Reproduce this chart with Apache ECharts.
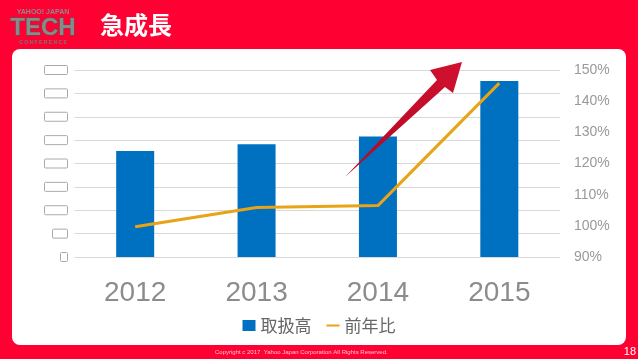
<!DOCTYPE html>
<html><head><meta charset="utf-8">
<script src="https://cdn.jsdelivr.net/npm/echarts@6/dist/echarts.min.js"></script>
<style>html,body{margin:0;padding:0;background:#ff0033;}#c{width:638px;height:359px;}</style>
</head><body><div id="c"></div>
<script>
const categories = ['2012', '2013', '2014', '2015'];
const volume = [4.53, 4.82, 5.15, 7.53];        // 取扱高 (left axis, labels hidden)
const yoy = [99.7, 105.9, 106.5, 145.8];         // 前年比 (%)
const leftTicks = ['', '', '', '', '', '', '', '', ''];
const seriesNames = ['取扱高', '前年比'];

const chart = echarts.init(document.getElementById('c'));
const boxW = [7, 15, 23, 23, 23, 23, 23, 23, 23];
chart.setOption({
  backgroundColor: 'transparent',
  animation: false,
  textStyle: { fontFamily: 'Liberation Sans, Noto Sans CJK JP' },
  grid: { left: 74.5, right: 78, top: 70, bottom: 102, containLabel: false },
  legend: {
    bottom: 20, left: 'center',
    itemWidth: 13, itemHeight: 11, itemGap: 14,
    textStyle: { fontSize: 17, color: '#666', fontFamily: 'Noto Sans CJK JP' },
    data: [{ name: seriesNames[0], icon: 'rect' }, { name: seriesNames[1], itemStyle: { opacity: 0 } }]
  },
  xAxis: {
    type: 'category', data: categories,
    axisLine: { show: false }, axisTick: { show: false },
    axisLabel: { fontSize: 28, color: '#8c8c8c', margin: 22, fontFamily: 'Liberation Sans' }
  },
  yAxis: [{
    type: 'value', min: 0, max: 8, interval: 1,
    axisLine: { show: false }, axisTick: { show: false },
    splitLine: { lineStyle: { color: '#d9d9d9', width: 1 } },
    axisLabel: {
      margin: 7,
      formatter: (v) => '{b' + Math.round(v) + '| ' + (leftTicks[Math.round(v)] || '') + '}',
      rich: Object.fromEntries(boxW.map((w, i) => ['b' + i, { width: w, height: 9, borderColor: '#aaa', borderWidth: 1, borderRadius: 1 }]))
    }
  }, {
    type: 'value', min: 90, max: 150, interval: 10,
    axisLine: { show: false }, axisTick: { show: false }, splitLine: { show: false },
    axisLabel: { margin: 14, fontSize: 14, color: '#999', formatter: '{value}%', fontFamily: 'Liberation Sans' }
  }],
  series: [{
    name: seriesNames[0], type: 'bar', data: volume, barWidth: 38,
    itemStyle: { color: '#0070c0' }, z: 2
  }, {
    name: seriesNames[1], type: 'line', yAxisIndex: 1, data: yoy,
    symbol: 'none', lineStyle: { color: '#e8a317', width: 3 }, itemStyle: { color: '#e8a317' }, z: 3
  }],
  graphic: [
    { type: 'rect', z: -10, shape: { x: 12, y: 49, width: 614, height: 296, r: 8 }, style: { fill: '#ffffff' } },
    { type: 'text', z: 10, style: { text: '急成長', x: 100, y: 25, fill: '#fff', font: 'bold 24px "Noto Sans CJK JP"', textVerticalAlign: 'middle' } },
    { type: 'text', z: 10, style: { text: 'YAHOO! JAPAN', x: 43, y: 12, fill: '#8a8a8a', font: 'bold 7px "Liberation Sans"', textAlign: 'center', textVerticalAlign: 'middle' } },
    { type: 'text', z: 10, style: { text: 'TECH', x: 43, y: 28, fill: '#8a8a8a', stroke: '#555', lineWidth: 1, font: 'bold 24px "Liberation Sans Narrow", "Liberation Sans"', textAlign: 'center', textVerticalAlign: 'middle' } },
    { type: 'text', z: 10, style: { text: 'C O N F E R E N C E', x: 43, y: 43, fill: '#777', font: 'bold 5px "Liberation Sans"', textAlign: 'center', textVerticalAlign: 'middle' } },
    { type: 'text', z: 10, style: { text: 'Copyright c 2017  Yahoo Japan Corporation All Rights Reserved.', x: 215, y: 352, fill: 'rgba(255,255,255,0.75)', font: '6px "Liberation Sans"', textVerticalAlign: 'middle' } },
    { type: 'text', z: 10, style: { text: '18', x: 636, y: 352, fill: '#fff', font: '11px "Liberation Sans"', textAlign: 'right', textVerticalAlign: 'middle' } },
    { type: 'polygon', z: 20, shape: { points: [[345, 177], [437, 80], [430, 70], [462, 62], [453, 93], [445, 87]] },
      style: { fill: new echarts.graphic.LinearGradient(0, 1, 1, 0, [{ offset: 0, color: '#b00a24' }, { offset: 1, color: '#d0102e' }]) } }
  ]
});
</script></body></html>
